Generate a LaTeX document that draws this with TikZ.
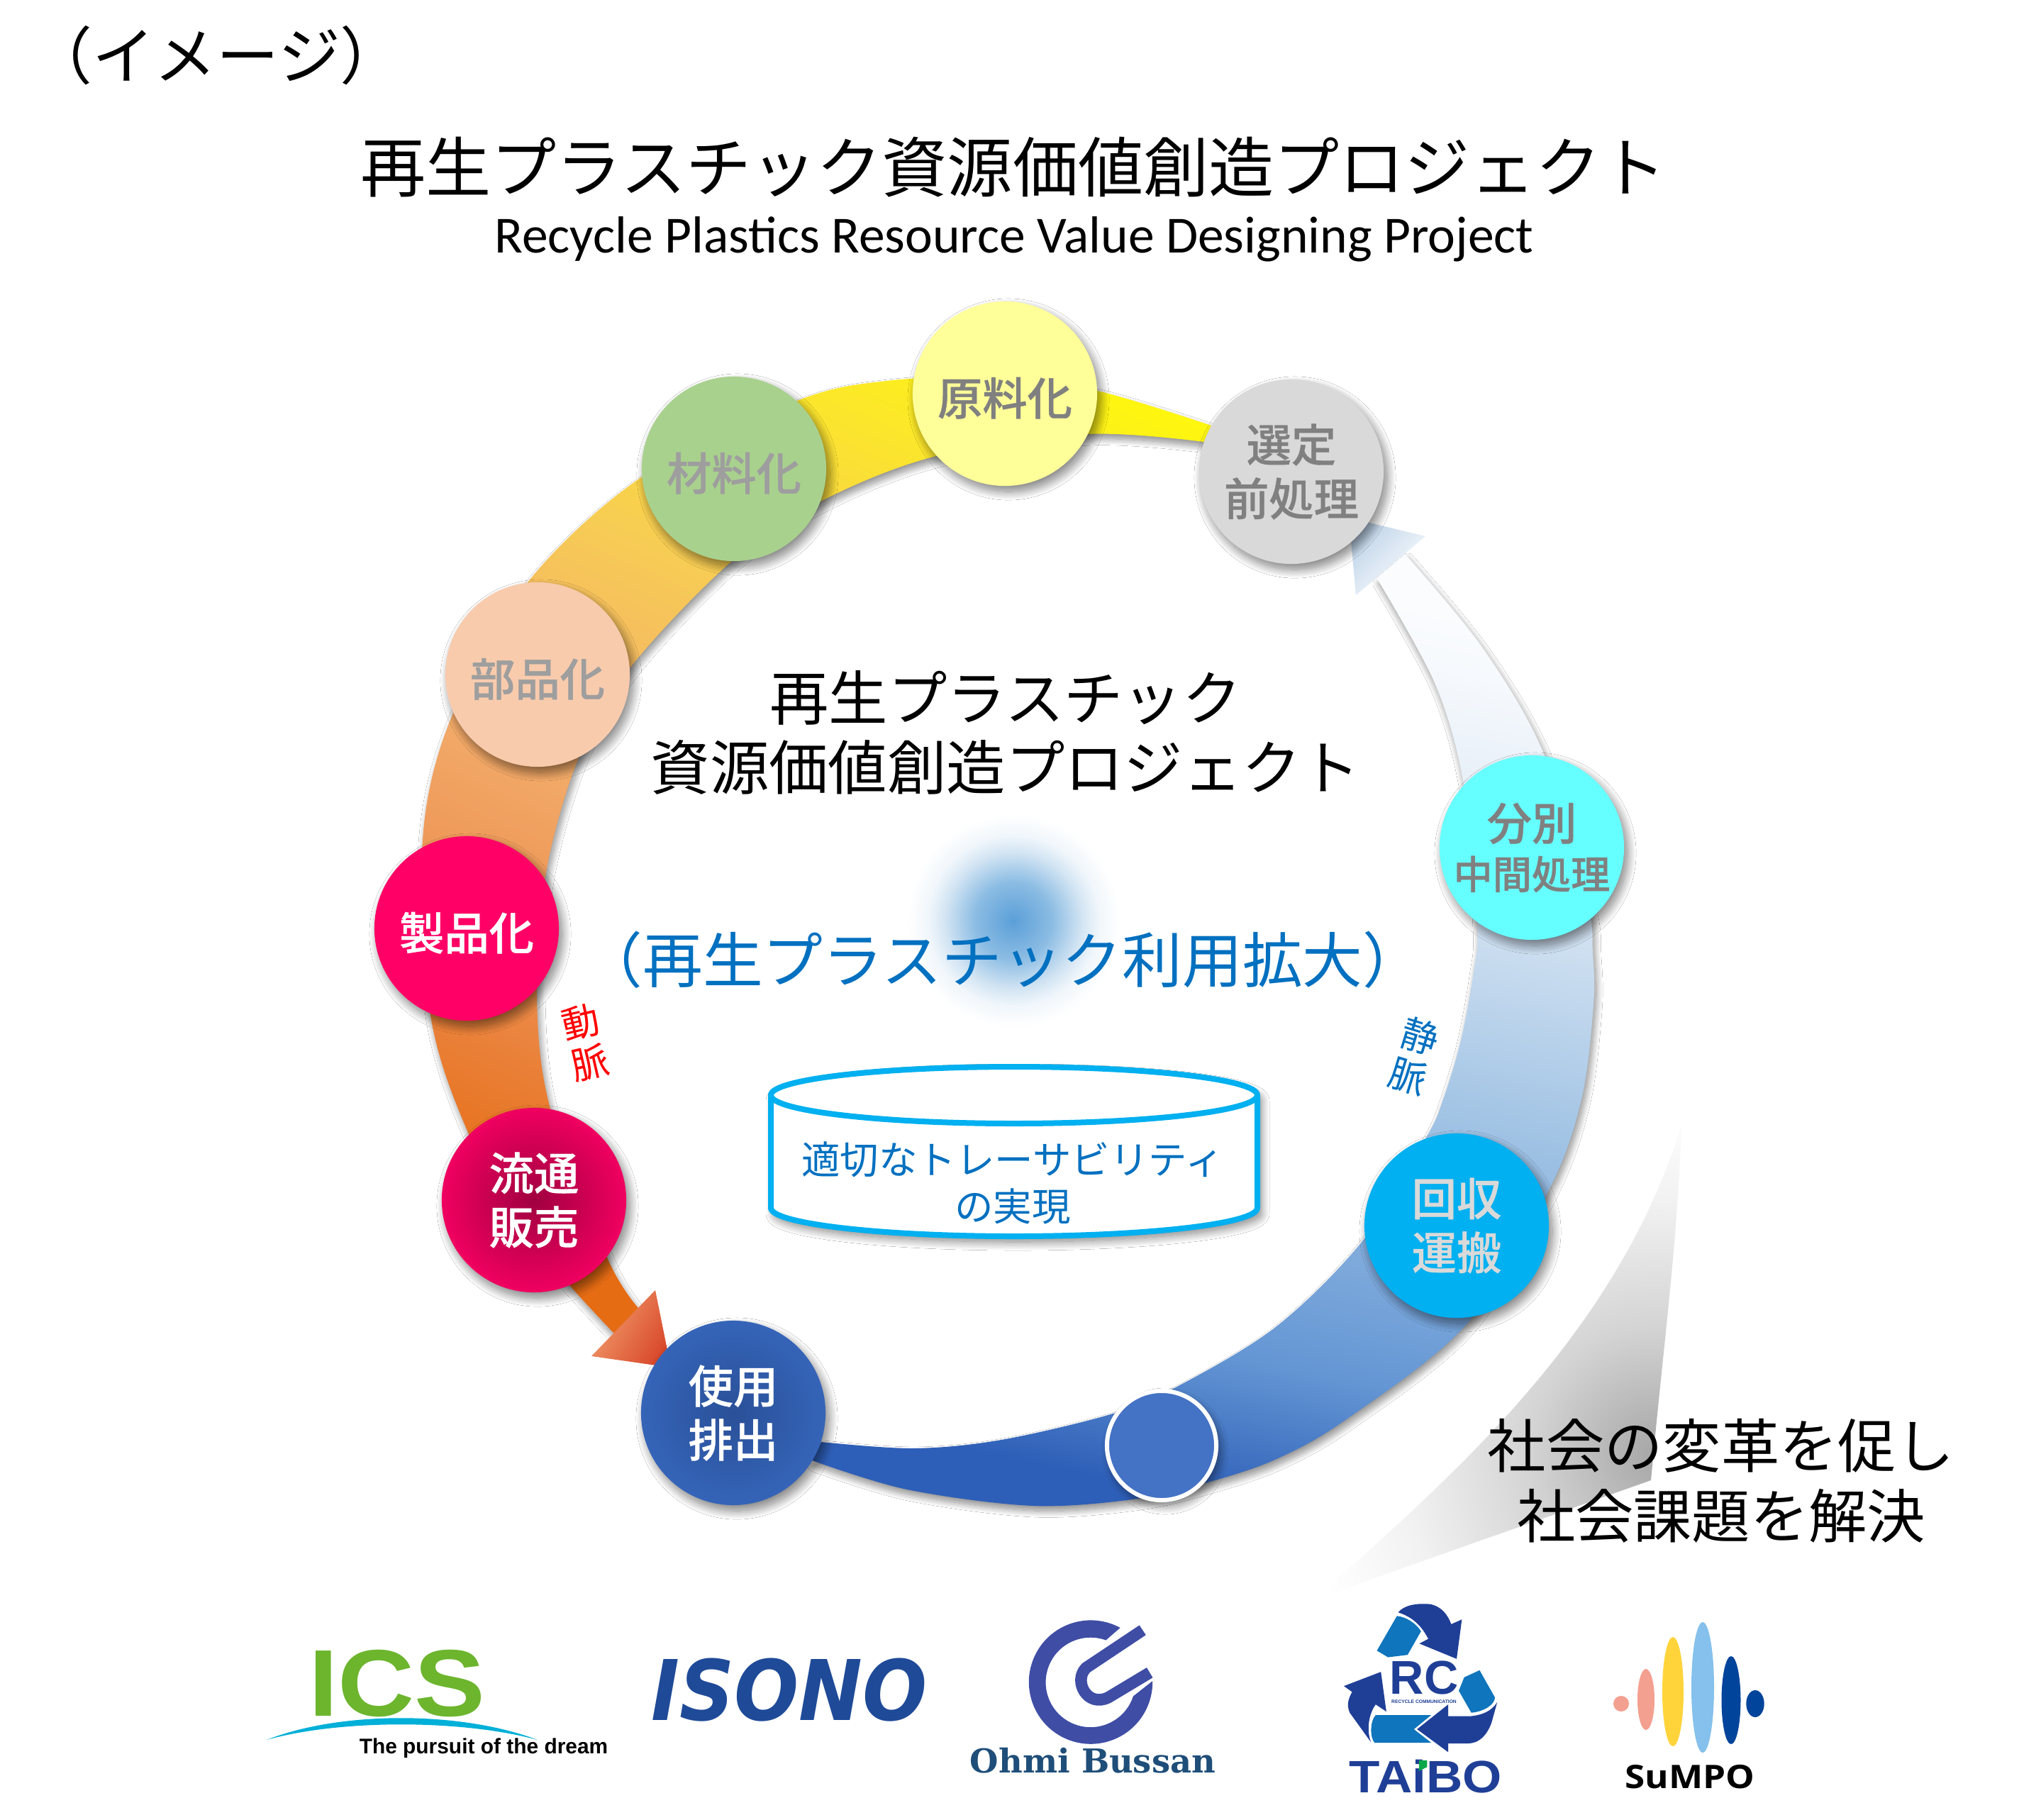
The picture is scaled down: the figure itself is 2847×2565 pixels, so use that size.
\documentclass[tikz,border=0pt]{standalone}
\usepackage{fontspec}
\setmainfont{Noto Sans CJK JP}
\newfontfamily\ballfont[FakeBold=0.6]{Noto Sans CJK JP Medium}
\newfontfamily\calibrilike{Carlito}
\newfontfamily\logosans{Liberation Sans}
\newfontfamily\logoserif{DejaVu Serif}
\newfontfamily\logoheavy{DejaVu Sans}
\newfontfamily\sumpofont{Open Sans}
\usetikzlibrary{shadows.blur}
\definecolor{taibodark}{HTML}{1F3F97}
\definecolor{taibolight}{HTML}{0F75BC}
\definecolor{taibogreen}{HTML}{0BA84A}
\definecolor{ohmiblue}{HTML}{3F4DA5}
\definecolor{ohmitext}{HTML}{1F4E79}
\definecolor{icsgreen}{HTML}{6CB52D}
\definecolor{icsblue}{HTML}{00B0D8}
\definecolor{isonoblue}{HTML}{1F4A98}
\definecolor{sumpopink}{HTML}{F4A090}
\definecolor{sumpoyellow}{HTML}{FFD43B}
\definecolor{sumposky}{HTML}{85C1EC}
\definecolor{sumponavy}{HTML}{00449B}
\definecolor{vesselblue}{HTML}{00B0F0}
\definecolor{labelblue}{HTML}{0070C0}
\definecolor{ballyellow}{HTML}{FFFF99}
\definecolor{ballgreen}{HTML}{A9D18E}
\definecolor{ballpeach}{HTML}{F8CBAD}
\definecolor{ballred}{HTML}{FF0066}
\definecolor{ballwine}{HTML}{A00040}
\definecolor{ballrose}{HTML}{F00060}
\definecolor{balldeep}{HTML}{2A5098}
\definecolor{ballblue}{HTML}{3564B8}
\definecolor{ballcyan}{HTML}{66FFFF}
\definecolor{ballroyal}{HTML}{4472C4}
\definecolor{headwarm}{HTML}{F29C6C}
\definecolor{headred}{HTML}{D8482A}
\definecolor{headblue}{HTML}{BCD2E8}
\definecolor{glowblue}{HTML}{5B9FD8}
\definecolor{glowmid}{HTML}{8BBCE3}
\definecolor{glowpale}{HTML}{D2E4F3}
\definecolor{glowfaint}{HTML}{F0F6FB}
\definecolor{cornergrey}{HTML}{A6A6A6}
\definecolor{cornermid}{HTML}{D4D4D4}
\definecolor{cornerfaint}{HTML}{F2F2F2}
% colour runs of the two bands, between 25bp and 75bp of the shading
\definecolor{warma}{HTML}{E66C14}
\definecolor{warmb}{HTML}{EC8E50}
\definecolor{warmc}{HTML}{F3AE6C}
\definecolor{warmd}{HTML}{F7CC54}
\definecolor{warme}{HTML}{FCE828}
\definecolor{warmf}{HTML}{FFFF00}
\definecolor{bluea}{HTML}{2E5FB8}
\definecolor{blueb}{HTML}{6496D4}
\definecolor{bluec}{HTML}{9CC0E3}
\definecolor{blued}{HTML}{DCE8F4}
\definecolor{bluee}{HTML}{F6F9FD}
\definecolor{bluef}{HTML}{FAFCFE}
\pgfdeclareverticalshading{warmrun}{100bp}{color(0bp)=(warma);color(25bp)=(warma);color(38bp)=(warmb);color(50bp)=(warmc);color(62bp)=(warmd);color(74bp)=(warme);color(84bp)=(warmf);color(100bp)=(warmf)}
\pgfdeclareverticalshading{bluerun}{100bp}{color(0bp)=(bluea);color(25bp)=(bluea);color(33bp)=(blueb);color(47bp)=(bluec);color(62bp)=(blued);color(72bp)=(bluee);color(75bp)=(bluef);color(100bp)=(bluef)}
\pgfdeclareradialshading{centreglow}{\pgfpoint{0bp}{0bp}}{color(0bp)=(glowblue);color(9bp)=(glowmid);color(16bp)=(glowpale);color(20bp)=(glowfaint);color(25bp)=(white);color(50bp)=(white)}
\pgfdeclareradialshading{cornerglow}{\pgfpoint{0bp}{0bp}}{color(0bp)=(cornergrey);color(9bp)=(cornermid);color(18bp)=(cornerfaint);color(25bp)=(white);color(50bp)=(white)}
\def\fs#1#2{\fontsize{#1}{#2}\selectfont}
\tikzset{
  softshadow/.style={blur shadow={shadow xshift=0.5mm,shadow yshift=-0.8mm,shadow blur radius=1.2mm,shadow blur steps=20,shadow opacity=50}},
  bandshadow/.style={blur shadow={shadow xshift=0.3mm,shadow yshift=-0.7mm,shadow blur radius=0.9mm,shadow blur steps=20,shadow opacity=45}},
  ball/.style={circle,minimum size=2.6cm,inner sep=0pt,align=center,softshadow,font=\ballfont\fs{18}{21.6},execute at begin node={\rule{0pt}{18.7pt}}},
  darklabel/.style={text=black!50},
  lightlabel/.style={text=white},
  vessel/.style={draw=vesselblue,line width=0.8mm,line join=round},
  darktext/.style={text=black,align=center},
  bluetext/.style={text=labelblue,align=center}
}
\begin{document}
\begin{tikzpicture}[x=0.01cm,y=-0.01cm]
  \useasboundingbox[fill=white] (0,0) rectangle (2847,2565);

  % Corner swoosh
  \begin{scope}
    \clip (2371,1587) .. controls (2365,1760) and (2345,1900) .. (2328,2087) -- (1853,2255) .. controls (2050,2080) and (2280,1880) .. (2371,1587) -- cycle;
    \shade[shading=cornerglow] (2335,2050) circle (500);
  \end{scope}

  % Warm band
  \path[shading=warmrun,shading angle=-24,bandshadow]
    plot[smooth,tension=0.55] coordinates {(1708,600) (1547,551) (1400,532) (1250,537) (1124,565) (907,671) (744,821) (637,1010) (596,1184) (607,1431) (661,1599) (735,1730) (804,1813) (866,1880)}
    -- (900,1844)
    -- plot[smooth,tension=0.55] coordinates {(900,1844) (857,1775) (776,1563) (757,1405) (769,1235) (815,1071) (889,941) (1032,791) (1157,707) (1320,643) (1533,612) (1698,623)}
    -- cycle;
  \path[top color=headwarm,bottom color=headred,shading angle=60] (834,1912) -- (924,1819) -- (946,1928) -- cycle;

  % Blue band
  \path[shading=bluerun,shading angle=-12,bandshadow]
    plot[smooth,tension=0.55] coordinates {(1145,2059) (1279,2100) (1457,2123) (1604,2113) (1703,2090) (1800,2057) (1900,2000) (2068,1867) (2184,1678) (2230,1550) (2247,1417) (2246,1343) (2238,1270) (2178,1065) (2091,914) (1982,782)}
    -- (1942,816)
    -- plot[smooth,tension=0.55] coordinates {(1942,816) (2024,965) (2064,1106) (2083,1300) (2078,1370) (2060,1467) (2035,1550) (2012,1602) (1925,1745) (1800,1870) (1654,1958) (1566,1994) (1412,2030) (1288,2042) (1158,2033)}
    -- cycle;
  \path[top color=headblue,bottom color=white,shading angle=45] (2010,756) -- (1902,730) -- (1912,839) -- cycle;

  % Header
  \node[darktext,font=\fs{25}{30}] (note) at (305,78) {（イメージ）};
  \node[darktext,font=\fs{26.2}{30}] (title) at (1429,236) {再生プラスチック資源価値創造プロジェクト};
  \node[darktext,font=\calibrilike\fs{20.9}{24}] (subtitle) at (1430,337) {Recycle Plastics Resource Value Designing Project};

  % Centre
  \shade[shading=centreglow] (1429,1298) circle (150);
  \node[darktext,font=\fs{23.7}{27.7}] (centre) at (1418,1033) {再生プラスチック\\資源価値創造プロジェクト};
  \node[bluetext,font=\fs{24.1}{28}] (usage) at (1414,1353) {（再生プラスチック利用拡大）};
  \path[vessel,fill=white,softshadow] (1087,1544) -- (1087,1703) arc[start angle=180,end angle=0,x radius=343,y radius=40] -- (1773,1544) arc[start angle=0,end angle=-180,x radius=343,y radius=40] -- cycle;
  \draw[vessel] (1087,1544) arc[start angle=180,end angle=0,x radius=343,y radius=40];
  \node[bluetext,font=\fs{15.5}{19}] (trace) at (1428,1668) {適切なトレーサビリティ\\の実現};
  \node[text=red,align=center,rotate=13,font=\fs{15}{16.5}] (artery) at (825,1470) {動\\脈};
  \node[bluetext,rotate=-17,font=\fs{15}{16.5}] (vein) at (1994,1489) {静\\脈};

  % Balls
  \node[ball,fill=ballyellow,darklabel] (material) at (1417,555) {原料化};
  \node[ball,fill=black!15,darklabel] (sorting) at (1821,665) {選定\\前処理};
  \node[ball,fill=ballgreen,text=black!38] (compound) at (1035,661) {材料化};
  \node[ball,fill=ballpeach,text=black!38] (parts) at (758,951) {部品化};
  \node[ball,fill=ballred,lightlabel] (product) at (658,1309) {製品化};
  \node[ball,inner color=ballwine,outer color=ballrose,lightlabel] (sales) at (753,1692) {流通\\販売};
  \node[ball,inner color=balldeep,outer color=ballblue,lightlabel] (use) at (1034,1992) {使用\\排出};
  \node[ball,fill=vesselblue,text=black!15] (collect) at (2054,1728) {回収\\運搬};
  \node[ball,fill=ballcyan,darklabel] (divide) at (2160,1195) {分別\\[-2pt]{\fs{15.7}{19}中間処理}};
  \node[circle,minimum size=1.54cm,inner sep=0pt,fill=ballroyal,draw=white,line width=0.6mm,softshadow] (bottom) at (1638,2038) {};

  % Society
  \node[darktext,font=\fs{23.4}{28.2}] (society) at (2427,2088) {社会の変革を促し\\社会課題を解決};

  % ICS
  \node[font=\logosans\fs{38}{40}\bfseries,text=icsgreen,inner sep=0pt] (ics) at (560,2373) {\scalebox{1.12}[1]{ICS}};
  \fill[fill=icsblue] (376,2453) .. controls (480,2412) and (650,2412) .. (758,2453) .. controls (650,2424) and (480,2424) .. (376,2453) -- cycle;
  \node[font=\logosans\fs{8.5}{10}\bfseries,inner sep=0pt] (dream) at (682,2465) {The pursuit of the dream};

  % Isono
  \node[font=\logoheavy\fs{30.5}{36}\bfseries\itshape,text=isonoblue,inner sep=0pt] (isono) at (1113,2383) {\scalebox{1}[1.1]{ISONO}};

  % Ohmi Bussan
  \begin{scope}[shift={(1350,2260)},x=0.00333cm,y=-0.00333cm]
    \fill[ohmiblue] (690,105) arc[start angle=-61.5,end angle=-361,radius=262] -- (745,395) arc[start angle=-342,end angle=-70,radius=190] -- cycle;
    \draw[ohmiblue,line width=1.65mm] (785,115) -- (545,275) .. controls (490,330) and (550,445) .. (640,400) -- (815,295);
  \end{scope}
  \node[font=\logoserif\fs{13.2}{15}\bfseries,text=ohmitext,inner sep=0pt] (ohmi) at (1541,2482) {Ohmi Bussan};

  % Taibo
  \begin{scope}[shift={(1870,2240)},x=0.00333cm,y=-0.00333cm]
    \fill[taibodark] (305,100) .. controls (330,70) and (380,60) .. (440,65) .. controls (490,75) and (515,110) .. (530,150) -- (575,130) -- (553,297) -- (395,232) -- (433,212) .. controls (415,180) and (385,125) .. (305,100) -- cycle;
    \fill[taibolight] (300,115) .. controls (340,120) and (380,145) .. (402,180) -- (345,280) -- (262,290) -- (215,262) -- cycle;
    \fill[taibolight] (650,345) -- (715,460) .. controls (715,490) and (670,520) .. (615,525) -- (562,432) -- (585,375) -- cycle;
    \fill[taibolight] (445,535) -- (210,535) .. controls (185,560) and (185,630) .. (205,652) -- (445,652) -- (372,595) -- cycle;
    \fill[taibodark] (725,480) -- (700,570) .. controls (680,620) and (650,655) .. (600,655) -- (517,655) -- (517,692) -- (385,595) -- (517,490) -- (517,540) -- (610,540) .. controls (660,535) and (700,520) .. (725,480) -- cycle;
    \fill[taibodark] (232,352) -- (75,412) -- (110,437) .. controls (95,465) and (85,490) .. (100,525) -- (190,650) .. controls (170,600) and (180,530) .. (210,490) -- (255,520) -- cycle;
  \end{scope}
  \node[font=\logosans\fs{19}{20}\bfseries,text=taibodark,inner sep=0pt] (rc) at (2008,2365) {RC};
  \node[font=\logosans\fs{1.9}{3}\bfseries,text=taibodark,inner sep=0pt] (rctext) at (2008,2399) {RECYCLE COMMUNICATION};
  \node[font=\logosans\fs{18.2}{20}\bfseries,text=taibodark,inner sep=0pt] (taibo) at (2010,2505) {\scalebox{1.11}[1]{TAiBO}};
  \begin{scope}[shift={(1870,2240)},x=0.00333cm,y=-0.00333cm]
    \fill[taibogreen] (393,727) -- (428,727) -- (428,755) -- (393,772) -- cycle;
  \end{scope}

  % Sumpo
  \fill[sumpopink] (2286,2402) circle (11);
  \fill[sumpopink] (2321,2396) ellipse (12 and 43);
  \fill[sumpoyellow] (2359,2385) ellipse (15 and 77);
  \fill[sumposky] (2401,2379) ellipse (16 and 92);
  \fill[sumponavy] (2441,2397) ellipse (13.5 and 62);
  \fill[sumponavy] (2475,2402) ellipse (12.7 and 19);
  \node[font=\sumpofont\fs{13}{14}\bfseries,inner sep=0pt] (sumpo) at (2383,2505) {\scalebox{1.12}[1]{SuMPO}};
\end{tikzpicture}
\end{document}
